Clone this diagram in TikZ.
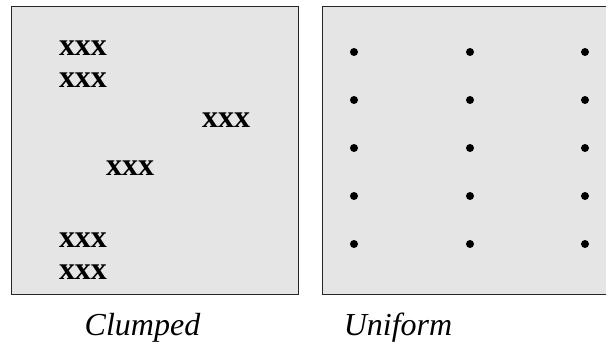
\documentclass[tikz,border=0pt]{standalone}
\usepackage{fontspec}
\setmainfont{Liberation Serif}
\usetikzlibrary{positioning}

\tikzset{
	panel/.style={draw=black!85, fill=black!10, line width=1.4pt, minimum width=287pt, minimum height=288pt, anchor=north west},
	clump/.style={font=\fontsize{32}{32}\selectfont\bfseries, inner sep=0pt},
	site/.style={circle, fill=black, inner sep=0pt, minimum size=8pt},
	caption/.style={font=\fontsize{32}{38}\selectfont\itshape, inner sep=0pt, anchor=base},
}

\begin{document}
\begin{tikzpicture}[x=1pt,y=-1pt]
		\useasboundingbox (0,0) rectangle (606,347);
		\clip (0,0) rectangle (606,347);
		%
		\node[panel] (left) at (11,6) {};
		\node[panel] (right) at (322,6) {};
		%
		\node[clump] (c1) at (83,48) {xxx};
		\node[clump] (c2) at (83,80) {xxx};
		\node[clump] (c3) at (226,120) {xxx};
		\node[clump] (c4) at (130,168) {xxx};
		\node[clump] (c5) at (83,240) {xxx};
		\node[clump] (c6) at (83,272) {xxx};
		%
		\foreach \col [count=\i] in {354,470,585} {
			\foreach \row [count=\j] in {52,100,148,196,244} {
				\node[site] (s\i\j) at (\col,\row) {};
			}
		}
		%
		\node[caption] (clumped) at (142.5,336) {Clumped};
		\node[caption] (uniform) at (398,336) {Uniform};
	\end{tikzpicture}
\end{document}
